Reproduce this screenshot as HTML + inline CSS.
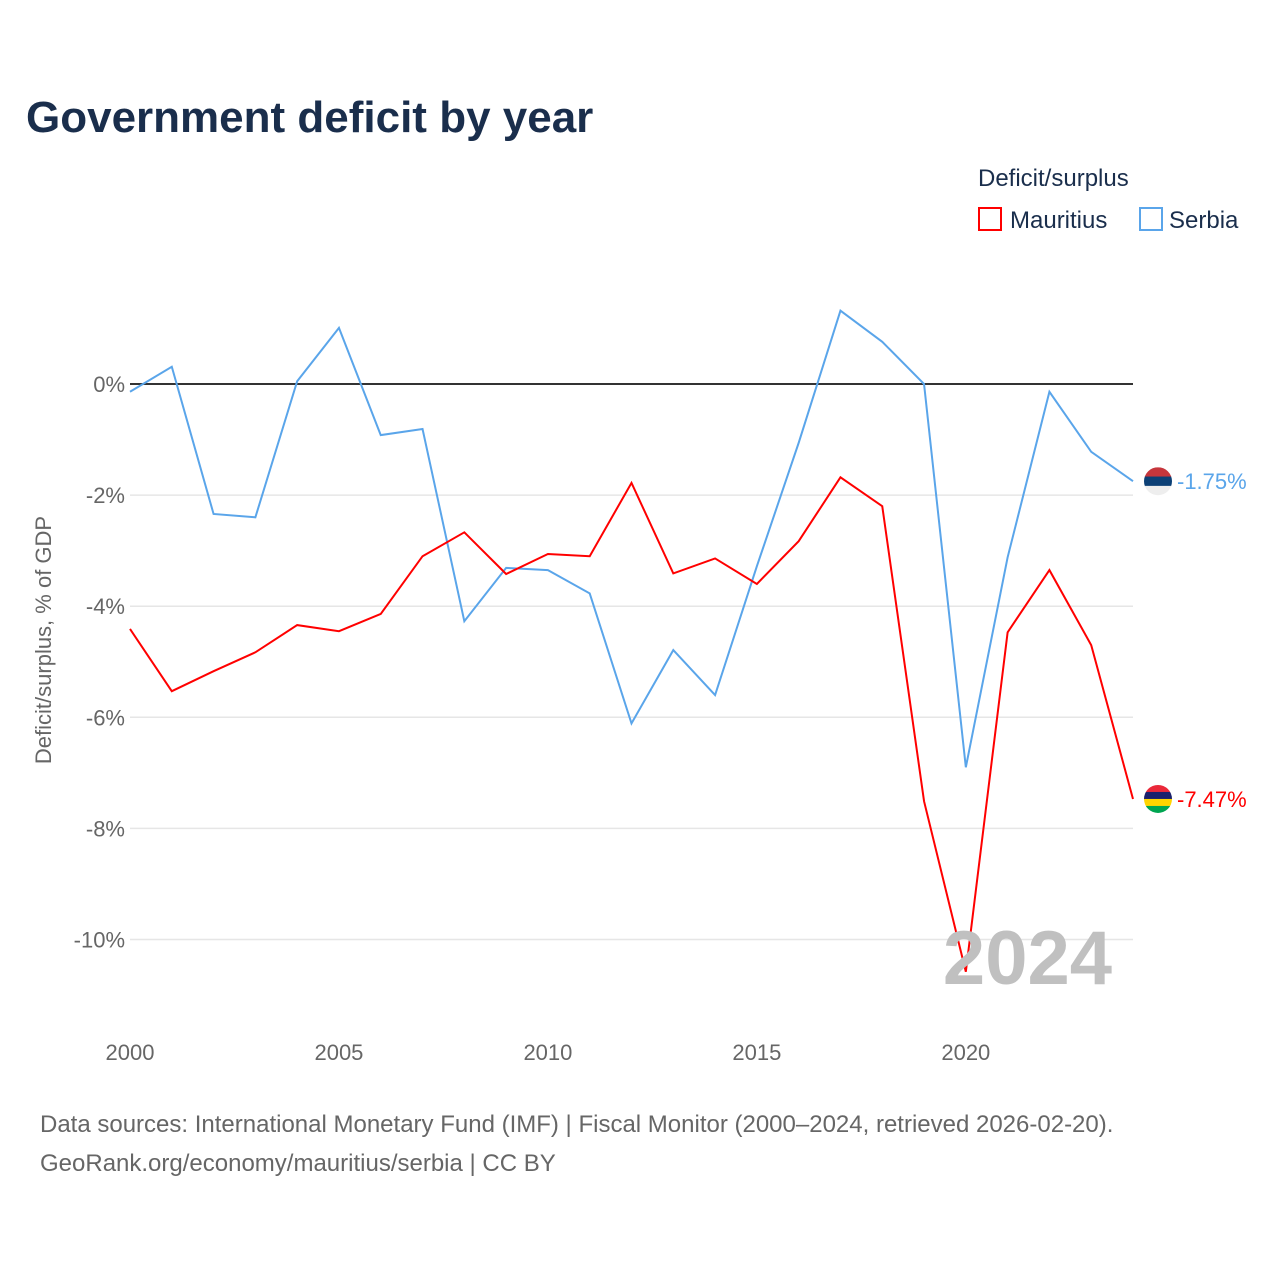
<!DOCTYPE html>
<html><head><meta charset="utf-8"><style>
body{margin:0;background:#fff;font-family:"Liberation Sans",sans-serif;}
#wrap{position:relative;width:1280px;height:1280px;}
</style></head><body>
<div id="wrap">
<svg id="chart" width="1280" height="1280">
<text x="26" y="132" font-size="44" font-weight="bold" fill="#1a2e4c">Government deficit by year</text>
<text x="978" y="186" font-size="24" fill="#1a2e4c">Deficit/surplus</text>
<g><rect x="979" y="208" width="22" height="22" fill="none" stroke="#ff0000" stroke-width="2"/><text x="1010" y="228" font-size="24" fill="#1a2e4c">Mauritius</text></g>
<g><rect x="1140" y="208" width="22" height="22" fill="none" stroke="#5aa5ea" stroke-width="2"/><text x="1169" y="228" font-size="24" fill="#1a2e4c">Serbia</text></g>
<text transform="translate(51,640) rotate(-90)" text-anchor="middle" font-size="22" fill="#666">Deficit/surplus, % of GDP</text>
<defs id="defs"></defs>
<g id="grid"></g><g id="lines"></g>
<text x="1112" y="984" text-anchor="end" font-size="76" font-weight="bold" fill="#c0c0c0">2024</text>
<text x="40" y="1132" font-size="24" fill="#666">Data sources: International Monetary Fund (IMF) | Fiscal Monitor (2000–2024, retrieved 2026-02-20).</text>
<text x="40" y="1171" font-size="24" fill="#666">GeoRank.org/economy/mauritius/serbia | CC BY</text>
</svg></div>
<script>
const years=[2000,2001,2002,2003,2004,2005,2006,2007,2008,2009,2010,2011,2012,2013,2014,2015,2016,2017,2018,2019,2020,2021,2022,2023,2024];
const serbia=[-0.14,0.31,-2.34,-2.4,0.05,1.01,-0.92,-0.81,-4.27,-3.31,-3.35,-3.77,-6.11,-4.79,-5.6,-3.28,-1.06,1.32,0.76,0,-6.9,-3.12,-0.14,-1.22,-1.75];
const mauritius=[-4.41,-5.53,-5.17,-4.83,-4.34,-4.45,-4.14,-3.1,-2.67,-3.42,-3.06,-3.1,-1.78,-3.41,-3.14,-3.6,-2.83,-1.68,-2.2,-7.51,-10.58,-4.47,-3.35,-4.7,-7.47];
const yTicks=[0,-2,-4,-6,-8,-10];
const xTicks=[2000,2005,2010,2015,2020];
const NS="http://www.w3.org/2000/svg";
const x=v=>130+(v-2000)*(1133-130)/24;
const y=v=>384-v*55.55;
function mk(t,a,p){const e=document.createElementNS(NS,t);for(const k in a)e.setAttribute(k,a[k]);p.appendChild(e);return e;}
const grid=document.getElementById('grid'),lines=document.getElementById('lines'),defs=document.getElementById('defs');
yTicks.forEach(v=>{
 if(v!==0){const l=mk('line',{x1:130,x2:1133,y1:y(v),y2:y(v),stroke:'#e6e6e6','stroke-width':1.5},grid);
 
 }
 const t=mk('text',{x:125,y:y(v)+8,'text-anchor':'end','font-size':22,fill:'#666'},grid);t.textContent=v+'%';
 
 
});
xTicks.forEach(v=>{const t=mk('text',{x:x(v),y:1060,'text-anchor':'middle','font-size':22,fill:'#666'},grid);t.textContent=v;
 
 });
const zl=mk('line',{x1:130,x2:1133,y1:y(0),y2:y(0),stroke:'#333','stroke-width':2},grid);


function flag(name,cy,stripes){
 const cp=mk('clipPath',{id:'clip-'+name},defs);
 mk('circle',{cx:1158,cy:cy,r:14},cp);
 const g=mk('g',{'clip-path':'url(#clip-'+name+')'},lines);
 
 
 const h=28/stripes.length;
 stripes.forEach((c,i)=>mk('rect',{x:1144,y:cy-14+i*h,width:28,height:h+0.5,fill:c},g));
}
function series(vals,color,name,stripes){
 const p=mk('polyline',{points:vals.map((v,i)=>x(years[i])+','+y(v)).join(' '),fill:'none',stroke:color,'stroke-width':2},lines);
 
 
 const last=vals[vals.length-1],cy=y(last);
 flag(name,cy,stripes);
 const t=mk('text',{x:1177,y:cy+8,'font-size':22,fill:color},lines);t.textContent=last.toFixed(2)+'%';
 
 
}
series(serbia,'#5aa5ea','serbia',['#c6363c','#0c4076','#eeeeee']);
series(mauritius,'#ff0000','mauritius',['#ea2839','#1a206d','#ffd500','#00a551']);
</script>
</body></html>
